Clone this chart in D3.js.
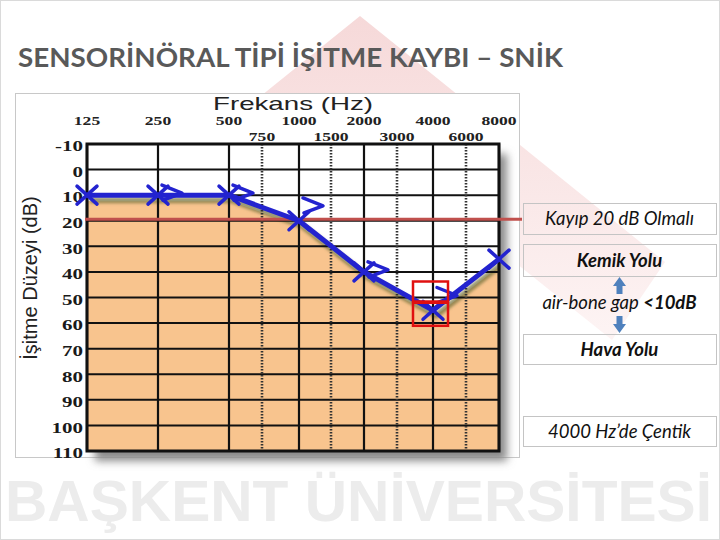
<!DOCTYPE html>
<html><head><meta charset="utf-8">
<script src="https://cdn.jsdelivr.net/npm/d3@7"></script>
<style>html,body{margin:0;padding:0;background:#fff;} svg{display:block;}</style>
</head><body>
<script>
// ---- data ----
const topFreqs = [125, 250, 500, 1000, 2000, 4000, 8000];
const topFreqLabels = ["125", "250", "500", "1000", "2000", "4000", "8000"];
const midFreqs = [750, 1500, 3000, 6000];
const midFreqLabels = ["750", "1500", "3000", "6000"];
const dbTicks = [-10, 0, 10, 20, 30, 40, 50, 60, 70, 80, 90, 100, 110];
const airFreqs = [125, 250, 500, 1000, 2000, 4000, 8000];
const airDb = [10, 10, 10, 20, 40, 55, 35];
const boneFreqs = [250, 500, 1000, 2000, 4000];
const boneDb = [10, 10, 15, 40, 50];
const targetDb = 20;
const notchFreq = 4000;
const titleText = "SENSORİNÖRAL TİPİ İŞİTME KAYBI – SNİK";
const xTitle = "Frekans (Hz)";
const yTitle = "İşitme Düzeyi (dB)";
const watermarkText = "BAŞKENT ÜNİVERSİTESİ";

const W = 720, H = 540;
const svg = d3.select("body").append("svg").attr("width", W).attr("height", H);
const defs = svg.append("defs");

// ---- scales ----
const allFreqs = topFreqs.concat(midFreqs).sort((a, b) => a - b);
const x = d3.scaleLog().domain(allFreqs)
  .range([87, 158, 229, 262, 299, 331, 364, 397, 433, 466, 499]);
const y = d3.scaleLinear().domain([-10, 110]).range([144, 451]);
const px0 = x(125), px1 = x(8000), py0 = y(-10), py1 = y(110);

// ---- background watermark ----
const grad = defs.append("linearGradient").attr("id", "wm")
  .attr("gradientUnits", "userSpaceOnUse").attr("x1", 0).attr("y1", 16).attr("x2", 0).attr("y2", 340);
grad.append("stop").attr("offset", 0).attr("stop-color", "#f6d9d9");
grad.append("stop").attr("offset", 1).attr("stop-color", "#fdf4f4");
svg.append("polygon")
  .attr("points", [[360,16],[665,262],[612,340],[360,138],[108,340],[55,262]].map(p => p.join(",")).join(" "))
  .attr("fill", "url(#wm)");

svg.append("text").attr("x", 5).attr("y", 521)
  .attr("font-family", "Liberation Sans, Arial, sans-serif").attr("font-weight", 700)
  .attr("font-size", 58).attr("fill", "#ececec")
  .attr("textLength", 707).attr("lengthAdjust", "spacingAndGlyphs")
  .text(watermarkText);

svg.append("rect").attr("x", 0.5).attr("y", 0.5).attr("width", W - 1).attr("height", H - 1)
  .attr("fill", "none").attr("stroke", "#dadada");

// ---- title ----
svg.append("text").attr("x", 18).attr("y", 67)
  .attr("font-family", "Lato, 'Open Sans', sans-serif").attr("font-weight", 700)
  .attr("font-size", 27).attr("fill", "#595959")
  .attr("textLength", 545).attr("lengthAdjust", "spacingAndGlyphs")
  .text(titleText);

// ---- image frame ----
svg.append("rect").attr("x", 15.5).attr("y", 93.5).attr("width", 504).attr("height", 364)
  .attr("fill", "#fff").attr("stroke", "#c8c8c8");

// ---- plot shadow ----
const blur = defs.append("filter").attr("id", "blur").attr("x", "-20%").attr("y", "-20%").attr("width", "140%").attr("height", "140%");
blur.append("feGaussianBlur").attr("stdDeviation", 4);
svg.append("rect").attr("x", px0 + 8).attr("y", py0 + 10).attr("width", px1 - px0).attr("height", py1 - py0)
  .attr("fill", "#8a8a8a").attr("filter", "url(#blur)");

// plot background
svg.append("rect").attr("x", px0).attr("y", py0).attr("width", px1 - px0).attr("height", py1 - py0).attr("fill", "#fff");

defs.append("clipPath").attr("id", "plotclip").append("rect")
  .attr("x", px0).attr("y", py0).attr("width", px1 - px0).attr("height", py1 - py0);

const airPts = airFreqs.map((f, i) => [f, airDb[i]]);
const plotG = svg.append("g").attr("clip-path", "url(#plotclip)");
// peach fill below the curve
const area = d3.area().x(d => x(d[0]) + 2).y0(py1).y1(d => y(d[1]) + 6);
plotG.append("path").attr("d", area(airPts)).attr("fill", "#f8c48e");
plotG.append("rect").attr("x", px0).attr("y", y(airDb[0]) + 6).attr("width", 3).attr("height", py1 - y(airDb[0]))
  .attr("fill", "#f8c48e");

// line shadow
const line = d3.line().x(d => x(d[0])).y(d => y(d[1]));
const blur2 = defs.append("filter").attr("id", "blur2");
blur2.append("feGaussianBlur").attr("stdDeviation", 1.5);
plotG.append("path").attr("d", line(airPts)).attr("transform", "translate(3,5)")
  .attr("fill", "none").attr("stroke", "#77733c").attr("stroke-opacity", 0.75)
  .attr("stroke-width", 6).attr("filter", "url(#blur2)");

// ---- grid ----
const grid = svg.append("g");
grid.selectAll("line.h").data(dbTicks).join("line")
  .attr("x1", px0).attr("x2", px1).attr("y1", d => y(d)).attr("y2", d => y(d))
  .attr("stroke", "#111").attr("stroke-width", 2);
grid.selectAll("line.v").data(topFreqs).join("line")
  .attr("x1", d => x(d)).attr("x2", d => x(d)).attr("y1", py0).attr("y2", py1)
  .attr("stroke", "#111").attr("stroke-width", 2.2);
grid.selectAll("line.m").data(midFreqs).join("line")
  .attr("x1", d => x(d)).attr("x2", d => x(d)).attr("y1", py0).attr("y2", py1)
  .attr("stroke", "#333").attr("stroke-width", 2.6).attr("stroke-dasharray", "1.6,1.4");
svg.append("rect").attr("x", px0).attr("y", py0).attr("width", px1 - px0).attr("height", py1 - py0)
  .attr("fill", "none").attr("stroke", "#111").attr("stroke-width", 3);

// ---- axis labels ----
const serif = "'Liberation Serif', 'Times New Roman', serif";
svg.append("g").selectAll("text").data(topFreqs).join("text")
  .attr("transform", d => `translate(${x(d)},125) scale(1.35,1)`)
  .attr("text-anchor", "middle").attr("font-family", serif).attr("font-weight", 700)
  .attr("font-size", 13).attr("fill", "#222")
  .text((d, i) => topFreqLabels[i]);
svg.append("g").selectAll("text").data(midFreqs).join("text")
  .attr("transform", d => `translate(${x(d)},141) scale(1.35,1)`)
  .attr("text-anchor", "middle").attr("font-family", serif).attr("font-weight", 700)
  .attr("font-size", 13).attr("fill", "#222")
  .text((d, i) => midFreqLabels[i]);

const yAxis = svg.append("g").attr("transform", "translate(83,0)")
  .call(d3.axisLeft(y).tickValues(dbTicks).tickSize(0).tickPadding(0).tickFormat(d => String(d)));
yAxis.select(".domain").remove();
yAxis.selectAll("text")
  .attr("x", 0).attr("dy", "0.45em")
  .attr("transform", "scale(1.4,1)")
  .attr("font-family", serif).attr("font-weight", 700).attr("font-size", 15).attr("fill", "#1a1a1a");

svg.append("text").attr("x", 293).attr("y", 110).attr("text-anchor", "middle")
  .attr("font-family", "'Liberation Sans', Arial, sans-serif").attr("font-size", 19).attr("fill", "#222")
  .attr("textLength", 160).attr("lengthAdjust", "spacingAndGlyphs")
  .text(xTitle);
svg.append("text").attr("transform", "translate(37,278) rotate(-90)").attr("text-anchor", "middle")
  .attr("font-family", "'Liberation Sans', Arial, sans-serif").attr("font-size", 20).attr("fill", "#222")
  .text(yTitle);

// ---- target red line ----
svg.append("line").attr("x1", 85).attr("x2", 522).attr("y1", y(targetDb) - 1.5).attr("y2", y(targetDb) - 1.5)
  .attr("stroke", "#c0504d").attr("stroke-width", 3.2);

// ---- air conduction line + X markers ----
const blue = "#2323cf";
svg.append("path").attr("d", line(airPts)).attr("fill", "none")
  .attr("stroke", blue).attr("stroke-width", 5).attr("stroke-linejoin", "round");
svg.append("g").selectAll("path").data(airPts).join("path")
  .attr("d", d => {
    const cx = x(d[0]), cy = y(d[1]);
    return `M${cx-10},${cy-9}L${cx+10},${cy+9}M${cx-10},${cy+9}L${cx+10},${cy-9}`;
  })
  .attr("stroke", blue).attr("stroke-width", 3.5).attr("stroke-linecap", "round").attr("fill", "none");

// ---- bone conduction ">" markers ----
const bonePts = boneFreqs.map((f, i) => [f, boneDb[i]]);
svg.append("g").selectAll("path").data(bonePts).join("path")
  .attr("d", d => {
    const cx = x(d[0]), cy = y(d[1]) - 2;
    return `M${cx+4},${cy-8}L${cx+24},${cy}L${cx+5},${cy+7}`;
  })
  .attr("stroke", blue).attr("stroke-width", 3.5).attr("stroke-linecap", "round").attr("stroke-linejoin", "round")
  .attr("fill", "none");

// ---- red highlight boxes at notch ----
const nb = boneDb[boneFreqs.indexOf(notchFreq)], na = airDb[airFreqs.indexOf(notchFreq)];
svg.append("rect").attr("x", x(notchFreq) - 20).attr("y", y(nb) - 16).attr("width", 35).attr("height", 20)
  .attr("fill", "none").attr("stroke", "#e01010").attr("stroke-width", 2.5);
svg.append("rect").attr("x", x(notchFreq) - 20).attr("y", y(na) - 7.5).attr("width", 35).attr("height", 23)
  .attr("fill", "none").attr("stroke", "#e01010").attr("stroke-width", 2.5);

// ---- right annotation boxes ----
const sans = "Lato, 'Open Sans', sans-serif";
function box(yTop, h) {
  svg.append("rect").attr("x", 523.5).attr("y", yTop + 0.5).attr("width", 193).attr("height", h)
    .attr("fill", "none").attr("stroke", "#c4c4c4");
}
function label(yBase, parts) {
  const t = svg.append("text").attr("x", 619.5).attr("y", yBase).attr("text-anchor", "middle")
    .attr("font-family", sans).attr("font-style", "italic").attr("font-size", 18.5).attr("fill", "#111");
  parts.forEach(p => t.append("tspan").attr("font-weight", p[1] ? 700 : 400).text(p[0]));
}
box(203, 31); label(225, [["Kayıp 20 dB Olmalı", false]]);
box(244, 32); label(267, [["Kemik Yolu", true]]);
label(309, [["air-bone gap ", false], ["<10dB", true]]);
box(334, 30); label(356, [["Hava Yolu", true]]);
box(416, 30); label(438, [["4000 Hz’de Çentik", false]]);

svg.append("path").attr("d", "M619.5,277L626,286L622.5,286L622.5,294L616.5,294L616.5,286L613,286Z").attr("fill", "#4f81bd");
svg.append("path").attr("d", "M619.5,333L626,324L622.5,324L622.5,316L616.5,316L616.5,324L613,324Z").attr("fill", "#4f81bd");
</script>
</body></html>
